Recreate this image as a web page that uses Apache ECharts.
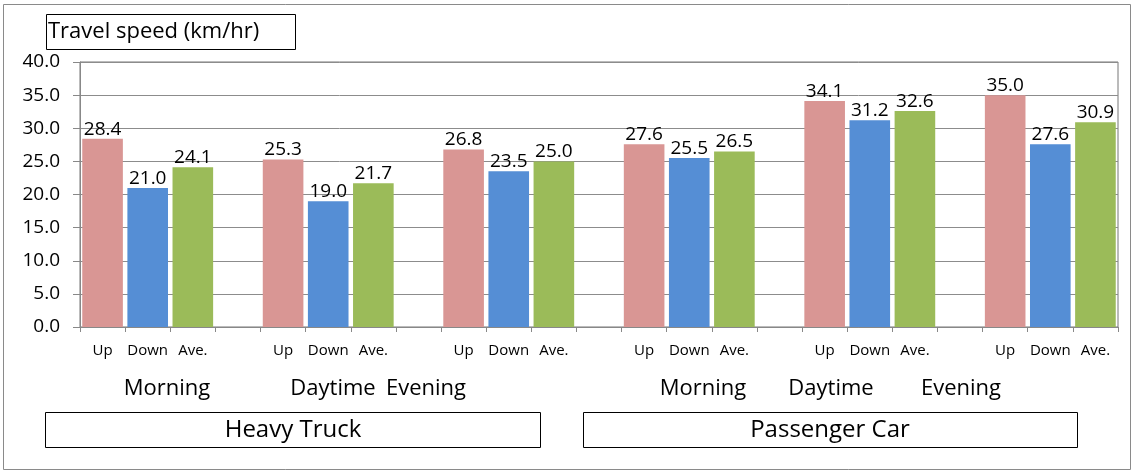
<!DOCTYPE html>
<html>
<head>
<meta charset="utf-8">
<script src="https://cdn.jsdelivr.net/npm/echarts@6/dist/echarts.min.js"></script>
<style>
  html, body { margin: 0; padding: 0; background: #fff; }
  #main { width: 1134px; height: 471px; }
</style>
</head>
<body>
<div id="main"></div>
<script>
// travel speed (km/hr), groups: Heavy Truck M/D/E, Passenger Car M/D/E
var groups = ['HT Morning', 'HT Daytime', 'HT Evening', 'PC Morning', 'PC Daytime', 'PC Evening']
var upValues = [28.4, 25.3, 26.8, 27.6, 34.1, 35.0]
var downValues = [21.0, 19.0, 23.5, 25.5, 31.2, 27.6]
var aveValues = [24.1, 21.7, 25.0, 26.5, 32.6, 30.9]
var barLabels = ['Up', 'Down', 'Ave.']
var periodLabels = ['Morning', 'Daytime', 'Evening']
var vehicleLabels = ['Heavy Truck', 'Passenger Car']
var yTicks = [0, 5, 10, 15, 20, 25, 30, 35, 40]

var FONT = 'Open Sans'

// 4 slots per group (Up, Down, Ave., gap), last gap dropped
var categories = []
groups.forEach(function (g, i) {
  categories.push(barLabels[0], barLabels[1], barLabels[2])
  if (i < groups.length - 1) categories.push('')
})

function slotData (values, offset) {
  var arr = categories.map(function () { return null })
  values.forEach(function (v, i) { arr[i * 4 + offset] = v })
  return arr
}

var chart = echarts.init(document.getElementById('main'))

function makeSeries (name, values, offset, color) {
  return {
    name: name,
    type: 'bar',
    data: slotData(values, offset),
    barWidth: '90%',
    barGap: '-100%',
    itemStyle: { color: color },
    label: {
      show: true,
      position: 'top',
      distance: 0,
      color: '#000',
      fontFamily: FONT,
      fontSize: 19,
      formatter: function (p) { return p.value.toFixed(1) }
    }
  }
}

function periodText (x, text) {
  return { type: 'text', x: x, y: 389, style: { text: text, fill: '#000', font: '22px "' + FONT + '"', align: 'center', verticalAlign: 'middle' } }
}

var option = {
  animation: false,
  backgroundColor: '#fff',
  grid: {
    left: 80,
    right: 16,
    top: 62,
    bottom: 144,
    show: true,
    borderColor: '#777',
    borderWidth: 1
  },
  xAxis: {
    type: 'category',
    data: categories,
    axisLine: { lineStyle: { color: '#888' } },
    axisTick: { show: true, length: 5, lineStyle: { color: '#888' } },
    axisLabel: {
      interval: 0,
      color: '#000',
      fontFamily: FONT,
      fontSize: 15,
      margin: 16
    }
  },
  yAxis: {
    type: 'value',
    min: yTicks[0],
    max: yTicks[yTicks.length - 1],
    interval: 5,
    axisLine: { show: true, lineStyle: { color: '#888' } },
    axisTick: { show: true, length: 7, lineStyle: { color: '#888' } },
    splitLine: { lineStyle: { color: '#8c8c8c' } },
    axisLabel: {
      color: '#000',
      fontFamily: FONT,
      fontSize: 19,
      margin: 20,
      formatter: function (v) { return v.toFixed(1) }
    }
  },
  series: [
    makeSeries(barLabels[0], upValues, 0, '#D99694'),
    makeSeries(barLabels[1], downValues, 1, '#558ED5'),
    makeSeries(barLabels[2], aveValues, 2, '#9BBB59')
  ],
  graphic: [
    // chart frame
    { type: 'rect', shape: { x: 3.5, y: 4.5, width: 1127, height: 465 }, style: { fill: 'none', stroke: '#8a8a8a', lineWidth: 1 }, silent: true },
    // title box
    { type: 'rect', shape: { x: 46.5, y: 14.5, width: 249, height: 35 }, style: { fill: '#fff', stroke: '#000', lineWidth: 1 } },
    { type: 'text', x: 48, y: 32, style: { text: 'Travel speed (km/hr)', fill: '#000', font: '22px "' + FONT + '"', verticalAlign: 'middle' } },
    // period labels
    periodText(167, periodLabels[0]),
    periodText(333, periodLabels[1]),
    periodText(426, periodLabels[2]),
    periodText(703, periodLabels[0]),
    periodText(831, periodLabels[1]),
    periodText(961, periodLabels[2]),
    // vehicle boxes
    { type: 'rect', shape: { x: 45.5, y: 412.5, width: 495, height: 35 }, style: { fill: '#fff', stroke: '#000', lineWidth: 1 } },
    { type: 'text', x: 293, y: 430, style: { text: vehicleLabels[0], fill: '#000', font: '24px "' + FONT + '"', align: 'center', verticalAlign: 'middle' } },
    { type: 'rect', shape: { x: 583.5, y: 412.5, width: 494, height: 35 }, style: { fill: '#fff', stroke: '#000', lineWidth: 1 } },
    { type: 'text', x: 830, y: 430, style: { text: vehicleLabels[1], fill: '#000', font: '24px "' + FONT + '"', align: 'center', verticalAlign: 'middle' } }
  ]
}

chart.setOption(option, true)
</script>
</body>
</html>
